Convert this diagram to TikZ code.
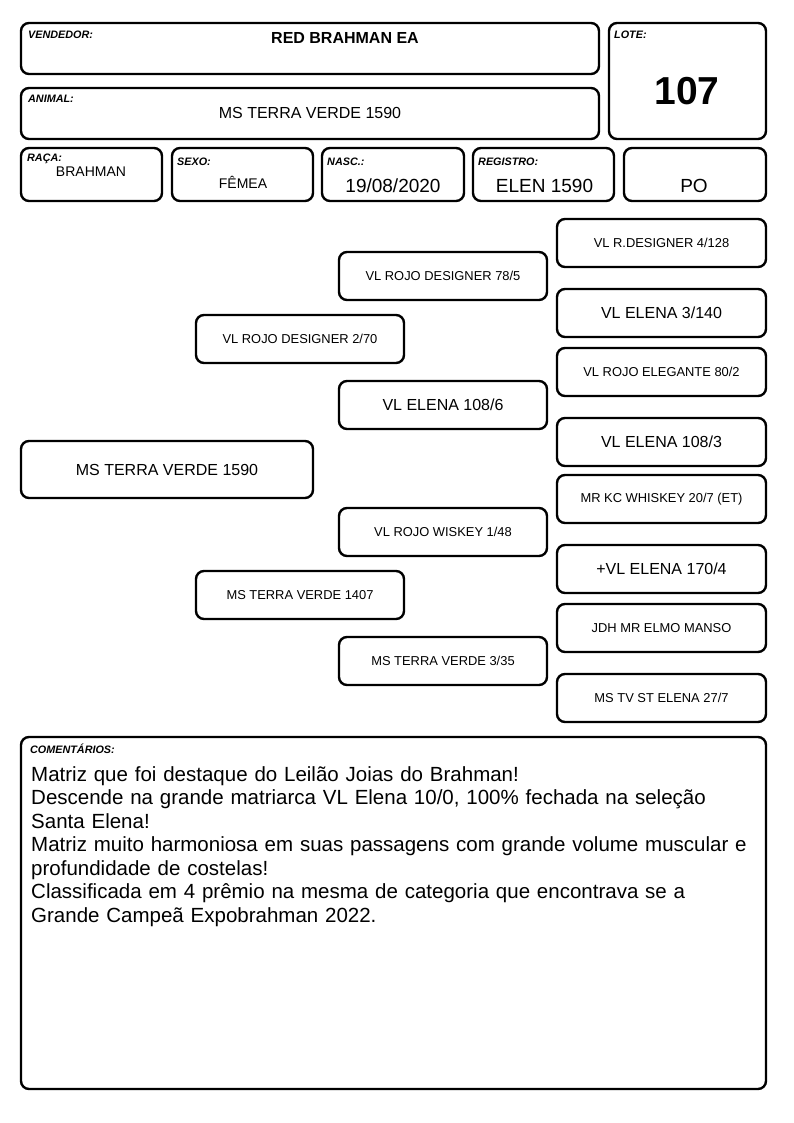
\documentclass[tikz,border=0pt]{standalone}
\usepackage{fontspec}
\setmainfont{Liberation Sans}
\begin{document}
\begin{tikzpicture}[x=1pt,y=-1pt,
  box/.style={draw=black,line width=2.4pt,rounded corners=8pt,inner sep=0pt},
  lbl/.style={anchor=base west,inner sep=0pt,font=\fontsize{10.8}{12}\selectfont\bfseries\itshape},
  small/.style={font=\fontsize{12.9}{14}\selectfont},
  big/.style={font=\fontsize{16}{18}\selectfont}]
\useasboundingbox (0,0) rectangle (794,1123);
\fill[white] (0,0) rectangle (794,1123);
% header boxes
\draw[box] (21,23) rectangle (599,74);
\draw[box] (21,88) rectangle (599,139);
\draw[box] (609,23) rectangle (766,139);
\draw[box] (21,148) rectangle (162,201);
\draw[box] (172,148) rectangle (313,201);
\draw[box] (322,148) rectangle (464,201);
\draw[box] (473,148) rectangle (614,201);
\draw[box] (624,148) rectangle (766,201);
\node[lbl] (lv) at (28,39) {VENDEDOR:};
\node[anchor=base,inner sep=0pt,font=\fontsize{16}{18}\selectfont\bfseries] (vend) at (345,44) {RED BRAHMAN EA};
\node[lbl] (la) at (28,103) {ANIMAL:};
\node[anchor=base,inner sep=0pt,font=\fontsize{16}{18}\selectfont] (anim) at (310,119) {MS TERRA VERDE 1590};
\node[lbl] (ll) at (614,39) {LOTE:};
\node[anchor=base,inner sep=0pt,font=\fontsize{39}{42}\selectfont\bfseries] (lote) at (687,105) {107};
\node[lbl] (lr) at (27,162) {RAÇA:};
\node[anchor=base,inner sep=0pt,font=\fontsize{14}{16}\selectfont] (raca) at (91,177) {BRAHMAN};
\node[lbl] (ls) at (177,165.5) {SEXO:};
\node[anchor=base,inner sep=0pt,font=\fontsize{14}{16}\selectfont] (sexo) at (243,189) {FÊMEA};
\node[lbl] (ln) at (327,165.5) {NASC.:};
\node[anchor=base,inner sep=0pt,font=\fontsize{19}{21}\selectfont] (nasc) at (393,193) {19/08/2020};
\node[lbl] (lg) at (478,165.5) {REGISTRO:};
\node[anchor=base,inner sep=0pt,font=\fontsize{19}{21}\selectfont] (reg) at (544.5,193) {ELEN 1590};
\node[anchor=base,inner sep=0pt,font=\fontsize{19}{21}\selectfont] (po) at (694,193) {PO};
% pedigree
\node[box,big,minimum width=292pt,minimum height=57pt] (g1) at (167,469.5) {MS TERRA VERDE 1590};
\node[box,small,minimum width=208pt,minimum height=48pt] (g2a) at (300,339) {VL ROJO DESIGNER 2/70};
\node[box,small,minimum width=208pt,minimum height=48pt] (g2b) at (300,595) {MS TERRA VERDE 1407};
\node[box,small,minimum width=208pt,minimum height=48pt] (g3a) at (443,276) {VL ROJO DESIGNER 78/5};
\node[box,big,minimum width=208pt,minimum height=48pt] (g3b) at (443,405) {VL ELENA 108/6};
\node[box,small,minimum width=208pt,minimum height=48pt] (g3c) at (443,532) {VL ROJO WISKEY 1/48};
\node[box,small,minimum width=208pt,minimum height=48pt] (g3d) at (443,661) {MS TERRA VERDE 3/35};
\node[box,small,minimum width=209pt,minimum height=48pt] (g4a) at (661.5,243) {VL R.DESIGNER 4/128};
\node[box,big,minimum width=209pt,minimum height=48pt] (g4b) at (661.5,313) {VL ELENA 3/140};
\node[box,small,minimum width=209pt,minimum height=48pt] (g4c) at (661.5,372) {VL ROJO ELEGANTE 80/2};
\node[box,big,minimum width=209pt,minimum height=48pt] (g4d) at (661.5,442) {VL ELENA 108/3};
\node[box,small,minimum width=209pt,minimum height=48pt] (g4e) at (661.5,499) {MR KC WHISKEY 20/7 (ET)};
\node[box,big,minimum width=209pt,minimum height=48pt] (g4f) at (661.5,569) {+VL ELENA 170/4};
\node[box,small,minimum width=209pt,minimum height=48pt] (g4g) at (661.5,628) {JDH MR ELMO MANSO};
\node[box,small,minimum width=209pt,minimum height=48pt] (g4h) at (661.5,698) {MS TV ST ELENA 27/7};
% comments
\draw[box] (21,737) rectangle (766,1089);
\node[lbl] (lc) at (30,753) {COMENTÁRIOS:};
\node[anchor=north west,inner sep=0pt,align=left,text width=742pt,font=\fontsize{20.5}{23.5}\selectfont] (com) at (31,766) {Matriz que foi destaque do Leilão Joias do Brahman!\\
Descende na grande matriarca VL Elena 10/0, 100\% fechada na seleção\\
Santa Elena!\\
Matriz muito harmoniosa em suas passagens com grande volume muscular e\\
profundidade de costelas!\\
Classificada em 4 prêmio na mesma de categoria que encontrava se a\\
Grande Campeã Expobrahman 2022.};
\end{tikzpicture}
\end{document}
